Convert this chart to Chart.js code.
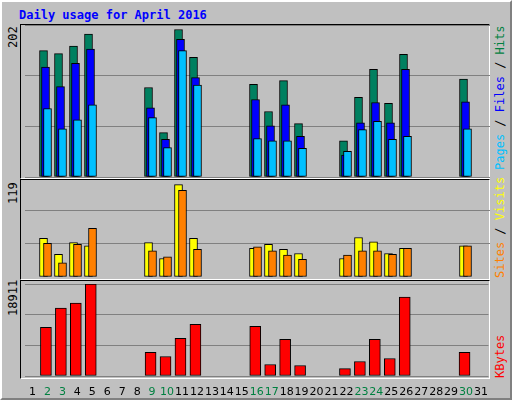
<!DOCTYPE html>
<html><head><meta charset="utf-8">
<script src="https://cdn.jsdelivr.net/npm/chart.js@4"></script>
<style>
body{margin:0;}
#frame{position:absolute;left:0;top:0;width:508px;height:396px;background:#c0c0c0;border:2px solid;border-color:#fff #808080 #808080 #fff;font-family:"DejaVu Sans Mono",monospace;}
.panel{position:absolute;left:18px;width:468px;border:1px solid;border-color:#000 #fff #fff #000;}
canvas{position:absolute;}
.rot{position:absolute;transform:rotate(-90deg);transform-origin:left top;white-space:nowrap;font-size:12px;}
#title{position:absolute;left:17px;top:6px;color:#0000ff;font-weight:bold;font-size:12px;}
</style></head>
<body>
<div id="frame">
  <div id="title">Daily usage for April 2016</div>
  <div class="panel" style="top:22px;height:153px"></div>
  <div class="panel" style="top:177px;height:99px"></div>
  <div class="panel" style="top:278px;height:97px"></div>
  <div class="rot" style="left:4px;top:46px">202</div>
  <div class="rot" style="left:4px;top:202px">119</div>
  <div class="rot" style="left:4px;top:314px">18911</div>
  <div class="rot" style="left:491px;top:168px"><span style="color:#00c0ff">Pages</span> / <span style="color:#0000ff">Files</span> / <span style="color:#008040">Hits</span></div>
  <div class="rot" style="left:491px;top:276px"><span style="color:#ff8000">Sites</span> / <span style="color:#ffff00">Visits</span></div>
  <div class="rot" style="left:491px;top:376px;color:#ff0000">KBytes</div>
</div>
<canvas id="c1" style="left:25px;top:25px" width="465" height="152"></canvas>
<canvas id="c2" style="left:25px;top:177px" width="465" height="100"></canvas>
<canvas id="c3" style="left:25px;top:284px" width="465" height="112"></canvas>
<script>
const days = Array.from({length: 31}, (_, i) => String(i + 1));
const weekend = [2, 3, 9, 10, 16, 17, 23, 24, 30];
// values per day, null = no traffic
const hits   = [null,168,164,174,190,null,null,null,119,59,196,159,null,null,null,123,87,128,71,null,null,48,106,143,98,163,null,null,null,130,null];
const files  = [null,146,120,151,170,null,null,null,92,50,183,132,null,null,null,103,68,96,54,null,null,29,72,99,72,143,null,null,null,100,null];
const pages  = [null,91,64,76,96,null,null,null,79,39,168,122,null,null,null,51,48,48,38,null,null,34,63,74,50,54,null,null,null,64,null];
const visits = [null,46,27,41,37,null,null,null,41,22,110,46,null,null,null,34,39,33,28,null,null,22,47,42,28,34,null,null,null,37,null];
const sites  = [null,40,17,39,58,null,null,null,31,24,103,33,null,null,null,36,31,26,21,null,null,26,31,31,27,34,null,null,null,37,null];
const kbytes = [null,10014,13945,14980,18911,null,null,null,4840,4010,7740,10630,null,null,null,10220,2360,7530,2150,null,null,1530,2980,7530,3600,16220,null,null,null,4840,null];

const shiftBars = {
  id: "shiftBars",
  afterDatasetsUpdate(chart) {
    chart.data.datasets.forEach((ds, i) => {
      chart.getDatasetMeta(i).data.forEach(el => { el.x += ds.shift; });
    });
  }
};

function makeChart(id, datasets, max, showX) {
  new Chart(document.getElementById(id), {
    type: "bar",
    data: { labels: days, datasets: datasets.map(d => ({
      data: d.data, backgroundColor: d.color, borderColor: "#000", borderWidth: 1,
      barThickness: d.w || 8, grouped: false, order: d.order, shift: d.shift, borderSkipped: false
    })) },
    options: {
      responsive: false, animation: false, events: [],
      layout: { padding: 0 },
      plugins: { legend: { display: false }, tooltip: { enabled: false } },
      scales: {
        x: {
          display: showX, offset: true, grid: { display: false }, border: { display: false },
          ticks: {
            autoSkip: false, maxRotation: 0, padding: 2,
            font: { family: "DejaVu Sans", size: 11 },
            color: ctx => weekend.includes(ctx.index + 1) ? "#008040" : "#000"
          },
          afterFit: s => { s.height = showX ? 20 : 0; }
        },
        y: {
          min: 0, max: max, border: { display: false },
          ticks: { display: false, stepSize: max / 3 },
          grid: { color: "#808080", drawTicks: false },
          afterFit: s => { s.width = 0; }
        }
      }
    },
    plugins: [shiftBars]
  });
}

makeChart("c1", [
  { data: hits, color: "#008060", order: 3, shift: -4 },
  { data: files, color: "#0000ff", order: 2, shift: -2 },
  { data: pages, color: "#00c0ff", order: 1, shift: 0 }
], 202, false);
makeChart("c2", [
  { data: visits, color: "#ffff00", order: 2, shift: -4 },
  { data: sites, color: "#ff8000", order: 1, shift: 0 }
], 119, false);
makeChart("c3", [
  { data: kbytes, color: "#ff0000", order: 1, shift: -1.5, w: 11 }
], 18911, true);
</script>
</body></html>
